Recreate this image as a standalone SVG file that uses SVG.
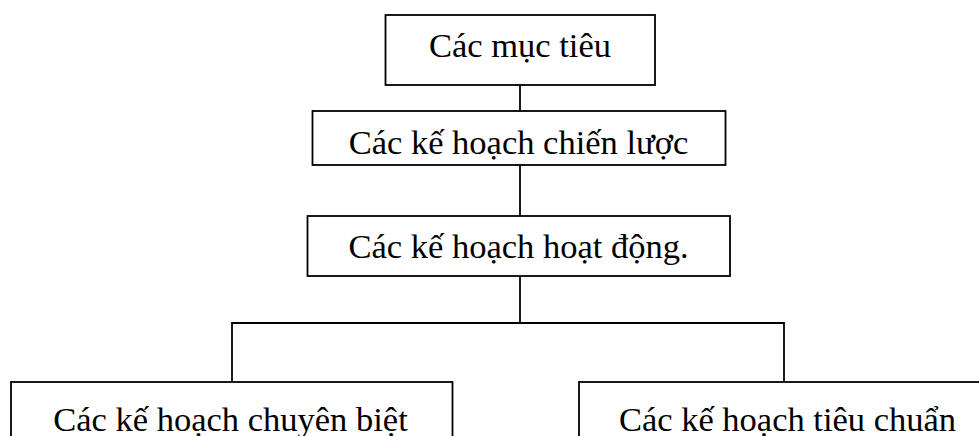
<svg xmlns="http://www.w3.org/2000/svg" width="979" height="436" viewBox="0 0 979 436">
<style>
.box{fill:#fff;stroke:#000;stroke-width:1.8}
.ln{fill:none;stroke:#000;stroke-width:1.8}
.t{font-family:"Liberation Serif","Times New Roman",serif;font-size:34.5px;fill:#000;text-anchor:middle}
</style>
<rect width="979" height="436" fill="#fff"/>
<g id="connectors">
<line class="ln" x1="520" y1="85" x2="520" y2="111"/>
<line class="ln" x1="520" y1="165" x2="520" y2="216"/>
<polyline class="ln" points="520,276 520,323"/>
<polyline class="ln" points="232,382 232,323 784,323 784,382"/>
</g>
<g id="n1">
<rect class="box" x="385.5" y="15" width="269.5" height="70"/>
<text class="t" x="520" y="57">Các mục tiêu</text>
</g>
<g id="n2">
<rect class="box" x="312.5" y="111" width="413" height="54"/>
<text class="t" x="518.5" y="154">Các kế hoạch chiến lược</text>
</g>
<g id="n3">
<rect class="box" x="307.5" y="216" width="422.5" height="60"/>
<text class="t" x="518.5" y="258">Các kế hoạch hoạt động.</text>
</g>
<g id="n4">
<rect class="box" x="11" y="382" width="441.5" height="70"/>
<text class="t" x="230.5" y="431">Các kế hoạch chuyên biệt</text>
</g>
<g id="n5">
<rect class="box" x="579" y="382" width="420" height="70"/>
<text class="t" x="787.5" y="431">Các kế hoạch tiêu chuẩn</text>
</g>
</svg>
